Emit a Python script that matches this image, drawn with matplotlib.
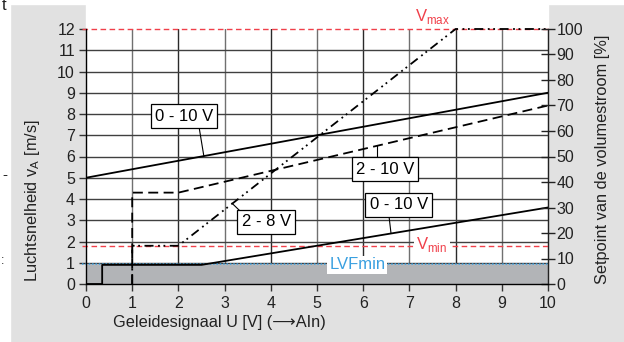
import matplotlib
matplotlib.use("Agg")
import matplotlib.pyplot as plt
from matplotlib.patches import Rectangle
import numpy as np

plt.rcParams['font.family'] = ['Liberation Sans', 'DejaVu Sans']
plt.rcParams['mathtext.fontset'] = 'custom'
plt.rcParams['mathtext.rm'] = 'Liberation Sans'

# ---- data ----
x_ticks = list(range(0, 11))
y_ticks = list(range(0, 13))
pct_ticks = list(range(0, 101, 10))

low010_x = [0, 0.35, 0.35, 2.5, 10]
low010_y = [0, 0, 0.9, 0.9, 3.6]
up010_x = [0, 10]
up010_y = [5, 9]
d210_x = [1, 1, 2, 10]
d210_y = [0, 4.3, 4.3, 8.4]
dd28_x = [1, 1, 2, 8, 10]
dd28_y = [0, 1.8, 1.8, 12, 12]
v_max = 12
v_min = 1.8
lvf_min = 0.92

W, H = 624, 342
fig = plt.figure(figsize=(W / 100, H / 100), dpi=100, facecolor='#e1e1e1')
# white areas
for r in [(0, 0, 10 / W, 1),
          (0, 1 - 4 / H, 1, 4 / H),
          (86 / W, (H - 284) / H, (548 - 86) / W, 284 / H)]:
    fig.patches.append(Rectangle((r[0], r[1]), r[2], r[3], transform=fig.transFigure,
                                 color='white', zorder=-10))

ax = fig.add_axes([86 / W, (H - 284) / H, (548 - 86) / W, (284 - 29) / H])
ax.set_facecolor('white')
ax.set_xlim(0, 10)
ax.set_ylim(0, 12)

# grid
for xv in x_ticks[1:-1]:
    ax.axvline(xv, color='#2a2a2a' if xv % 2 == 0 else '#707070', lw=1.0, zorder=1)
for yv in y_ticks[1:-1]:
    ax.axhline(yv, color='#404040', lw=1.0, zorder=1)

# gray fill below LVFmin
ax.fill_between([0, 10], 0, lvf_min, color='#b2b4b7', zorder=2, lw=0)
ax.plot([-0.08, 10], [lvf_min, lvf_min], color='#3aa0e0', lw=1.1, ls=(0, (1, 1.2)), zorder=3, clip_on=False)

# red lines
ax.plot([-0.08, 10], [v_max, v_max], color='#f0404a', lw=1.0, ls=(0, (4, 2.5)), zorder=3, clip_on=False)
ax.plot([-0.08, 10], [v_min, v_min], color='#f0404a', lw=1.0, ls=(0, (4, 2.5)), zorder=3, clip_on=False)

# series
ax.plot(up010_x, up010_y, color='black', lw=1.3, zorder=4)
ax.plot(low010_x, low010_y, color='black', lw=1.3, zorder=4)
ax.plot(d210_x, d210_y, color='black', lw=1.3, ls=(0, (5.5, 3)), zorder=4)
ax.plot(dd28_x, dd28_y, color='black', lw=1.3, ls=(0, (5, 2.5, 1, 2, 1, 2.5)), zorder=4, clip_on=False)

# label boxes
box = dict(boxstyle='square,pad=0.25', fc='white', ec='black', lw=0.9)
fs_lab = 12
ax.text(2.12, 7.9, '0 - 10 V', ha='center', va='center', fontsize=fs_lab, bbox=box, zorder=6)
ax.plot([2.45, 2.55], [7.35, 6.03], color='black', lw=0.8, zorder=5)
ax.text(6.47, 5.41, '2 - 10 V', ha='center', va='center', fontsize=fs_lab, bbox=box, zorder=6)
ax.plot([6.3, 6.3], [5.95, 6.5], color='black', lw=0.8, zorder=5)
ax.text(3.9, 2.92, '2 - 8 V', ha='center', va='center', fontsize=fs_lab, bbox=box, zorder=6)
ax.plot([3.38, 3.16], [3.34, 3.8], color='black', lw=0.8, zorder=5)
ax.text(6.77, 3.72, '0 - 10 V', ha='center', va='center', fontsize=fs_lab, bbox=box, zorder=6)
ax.plot([6.56, 6.6], [3.16, 2.42], color='black', lw=0.8, zorder=5)

# red / blue texts
ax.text(7.51, 12.6, r'V$_\mathregular{max}$', color='#f0404a', ha='center', va='center',
        fontsize=12, clip_on=False, zorder=6)
ax.text(7.49, 1.84, r'V$_\mathregular{min}$', color='#f0404a', ha='center', va='center',
        fontsize=12, zorder=6,
        bbox=dict(boxstyle='square,pad=0.15', fc='white', ec='none'))
ax.text(5.87, 0.9, 'LVFmin', color='#3aa0e0', ha='center', va='center', fontsize=12, zorder=6,
        bbox=dict(boxstyle='square,pad=0.1', fc='white', ec='none'))

# axes styling
ax.spines['top'].set_visible(False)
for s in ['left', 'bottom', 'right']:
    ax.spines[s].set_color('#333333')
    ax.spines[s].set_linewidth(1.0)
ax.set_xticks(x_ticks)
ax.set_yticks(y_ticks)
ax.tick_params(axis='both', direction='out', length=5, width=1.0, color='#333333',
               labelsize=11.5, labelcolor='#222222')
ax.tick_params(axis='y', pad=3)
ax.tick_params(axis='x', pad=4)

ax2 = ax.twinx()
ax2.patch.set_visible(False)
ax2.set_ylim(0, 100)
ax2.set_yticks(pct_ticks)
ax2.spines['top'].set_visible(False)
ax2.spines['right'].set_color('#222222')
ax2.tick_params(axis='y', direction='inout', length=10, width=1.0, color='#222222',
                labelsize=11.5, labelcolor='#222222', pad=1)

fig.text(33 / W, 1 - 201 / H, r'Luchtsnelheid v$_\mathregular{A}$ [m/s]', rotation=90,
         ha='center', va='center', fontsize=11.8, color='#222222')
fig.text(603 / W, 1 - 159 / H, 'Setpoint van de volumestroom [%]', rotation=90,
         ha='center', va='center', fontsize=11.8, color='#222222')
fig.text(113 / W, 1 - 323 / H, 'Geleidesignaal U [V] (\u27f6AIn)', ha='left', va='center',
         fontsize=11.8, color='#222222')

# stray cropped marks at left edge
fig.text(2 / W, 1 - 6 / H, 't', ha='left', va='center', fontsize=12, color='#222222')
fig.text(2 / W, 1 - 175 / H, '-', ha='left', va='center', fontsize=11, color='#222222')
fig.text(1 / W, 1 - 261 / H, ':', ha='left', va='center', fontsize=9, color='#222222')

fig.savefig('out.png', dpi=100, facecolor=fig.get_facecolor())
